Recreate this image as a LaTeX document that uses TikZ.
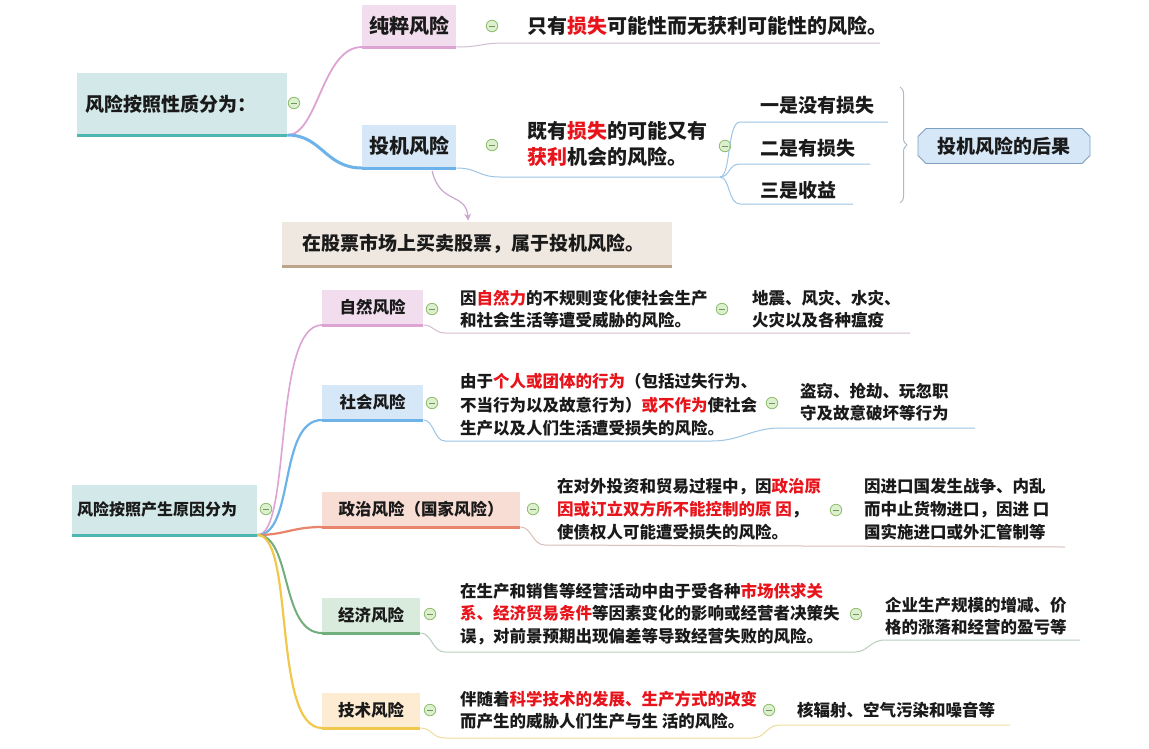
\documentclass[tikz,border=0pt]{standalone}
\usepackage{fontspec}
\setmainfont{Noto Sans CJK SC}
\usetikzlibrary{arrows.meta,decorations.pathreplacing,calc}

% palette
\definecolor{tealfill}{HTML}{D3E8E8}
\definecolor{tealline}{HTML}{4DB5B2}
\definecolor{pinkfill}{HTML}{F1DDEE}
\definecolor{pinkline}{HTML}{DDA3D3}
\definecolor{bluefill}{HTML}{D6E8F8}
\definecolor{blueline}{HTML}{6DB3EA}
\definecolor{redfill}{HTML}{F8DDD4}
\definecolor{redline}{HTML}{E8846C}
\definecolor{greenfill}{HTML}{D9EBDD}
\definecolor{greenline}{HTML}{72AE7C}
\definecolor{orangefill}{HTML}{FDEBD2}
\definecolor{yellowline}{HTML}{F2C84C}
\definecolor{beigefill}{HTML}{EFE8E0}
\definecolor{brownline}{HTML}{BCA48C}
\definecolor{hotred}{HTML}{E8141B}
\definecolor{txt}{HTML}{1A1A1A}
\definecolor{pinksub}{HTML}{D3BDD0}
\definecolor{bluesub}{HTML}{9CC5E6}
\definecolor{redsub}{HTML}{D8BFB7}
\definecolor{greensub}{HTML}{B8CFBD}
\definecolor{yellowsub}{HTML}{EEDC9C}
\definecolor{bracecol}{HTML}{A9BACB}
\definecolor{resultedge}{HTML}{7F9FBE}
\definecolor{minusfill}{HTML}{DCEFCF}
\definecolor{minusline}{HTML}{8DBD6C}
\definecolor{arrowcol}{HTML}{CBA6D0}

\newcommand{\redtxt}[1]{\textcolor{hotred}{#1}}

\tikzset{
  topic/.style={rectangle, fill=#1, inner sep=0pt, anchor=south west, text=txt},
  leaf/.style={anchor=west, align=left, inner sep=0pt, text=txt},
  fbig/.style={font=\fontsize{20pt}{26pt}\selectfont\bfseries},
  fmid/.style={font=\fontsize{19pt}{24pt}\selectfont\bfseries},
  fsmall/.style={font=\fontsize{16.5pt}{22.5pt}\selectfont\bfseries},
  froot/.style={font=\fontsize{16pt}{20pt}\selectfont\bfseries},
  minus/.style={circle, minimum size=11.5pt, inner sep=0pt, fill=minusfill, draw=minusline, line width=0.8pt,
    path picture={\draw[minusline!80!black, line width=0.9pt]
      ([xshift=-3pt]path picture bounding box.center) -- ([xshift=3pt]path picture bounding box.center);}},
  sub/.style={line width=1pt, draw=#1},
}

\begin{document}
\begin{tikzpicture}[x=1pt,y=-1pt]
\useasboundingbox[fill=white] (0,0) rectangle (1149,748);

% ---------- risk by nature ----------
\node[topic=tealfill, minimum height=62pt, text width=194pt, inner xsep=8pt, align=left, fmid] (root1) at (77,135) {风险按照性质分为：};
\node[topic=pinkfill, minimum width=94pt, minimum height=42pt, fbig] (pure) at (362,47) {纯粹风险};
\node[topic=bluefill, minimum width=94pt, minimum height=43pt, fbig] (spec) at (362,168) {投机风险};

\node[minus] (m0) at (294,103) {};
\node[minus] (m1) at (492,26) {};
\node[minus] (m2) at (492,145) {};
\node[minus] (m3) at (725,146) {};

\draw[pinkline, line width=1.8pt] (root1.south east) .. controls (318,135) and (322,47) .. (pure.south west);
\draw[blueline, line width=3pt] (root1.south east) .. controls (322,135) and (325,168) .. (spec.south west);

\node[leaf, fbig] (pureT) at (527,26) {只有\redtxt{损失}可能性而无获利可能性的风险。};
\coordinate (pureW) at (505,43);
\coordinate (pureE) at (880,43);
\draw[sub=pinksub] (pure.south east) .. controls (482,47) and (480,43) .. (pureW) -- (pureE);

\node[leaf, fbig] (specT) at (527,144) {既有\redtxt{损失}的可能又有\\\redtxt{获利}机会的风险。};
\coordinate (specW) at (500,177);
\coordinate (specJ) at (720,177);
\draw[sub=bluesub] (spec.south east) .. controls (478,168) and (478,177) .. (specW) -- (specJ);

\node[leaf, fmid] (o1) at (760,105) {一是没有损失};
\node[leaf, fmid] (o2) at (760,148) {二是有损失};
\node[leaf, fmid] (o3) at (760,190) {三是收益};
\coordinate (o1W) at (740,122); \coordinate (o1E) at (888,122);
\coordinate (o2W) at (740,164); \coordinate (o2E) at (870,164);
\coordinate (o3W) at (740,204); \coordinate (o3E) at (853,204);
\draw[sub=bluesub] (specJ) .. controls (731,177) and (727,122) .. (o1W) -- (o1E);
\draw[sub=bluesub] (specJ) .. controls (730,177) and (728,164) .. (o2W) -- (o2E);
\draw[sub=bluesub] (specJ) .. controls (730,177) and (728,204) .. (o3W) -- (o3E);

\draw[bracecol, line width=1pt, decorate, decoration={brace, amplitude=7pt}] (900,87) -- (900,203);
% summary box with cut corners
\filldraw[fill=bluefill, draw=resultedge, line width=0.9pt]
  (926,128.5) -- (1082,128.5) -- (1090,136.5) -- (1090,155.5) -- (1082,163.5)
  -- (926,163.5) -- (918,155.5) -- (918,136.5) -- cycle;
\node[inner sep=0pt, fmid, text=txt] (result) at (1004,146) {投机风险的后果};

\node[topic=beigefill, text width=350pt, inner xsep=20pt, minimum height=44pt, align=left, fmid] (stock) at (282,266) {在股票市场上买卖股票，属于投机风险。};
\draw[arrowcol, line width=1.2pt, -{Stealth[length=7pt,width=7pt]}]
  ($(spec.south)+(23,3)$) .. controls (440,205) and (466,192) .. ($(stock.north)+(-9,-1)$);

% ---------- risk by cause ----------
\node[topic=tealfill, text width=175pt, inner xsep=5pt, minimum height=50pt, align=left, froot] (root2) at (72,535) {风险按照产生原因分为};
\node[minus] (n0) at (266,509) {};

\node[topic=pinkfill, minimum width=101pt, minimum height=35pt, fsmall] (nat) at (322,325) {自然风险};
\node[topic=bluefill, minimum width=101pt, minimum height=35pt, fsmall] (soc) at (322,420) {社会风险};
\node[topic=redfill, minimum width=198pt, minimum height=35pt, fsmall] (pol) at (322,527) {政治风险（国家风险）};
\node[topic=greenfill, minimum width=98pt, minimum height=35pt, fsmall] (eco) at (322,633) {经济风险};
\node[topic=orangefill, minimum width=98pt, minimum height=35pt, fsmall] (tec) at (322,728) {技术风险};

\draw[pinkline, line width=1.6pt] (root2.south east) .. controls (292,535) and (272,325) .. (nat.south west);
\draw[blueline, line width=2.2pt] (root2.south east) .. controls (295,535) and (278,420) .. (soc.south west);
\draw[redline, line width=2.2pt] (root2.south east) .. controls (285,535) and (292,527) .. (pol.south west);
\draw[greenline, line width=2pt] (root2.south east) .. controls (292,535) and (280,633) .. (eco.south west);
\draw[yellowline, line width=2.2pt] (root2.south east) .. controls (295,535) and (272,728) .. (tec.south west);

\node[minus] (n1) at (432,309) {};
\node[minus] (n2) at (722,309) {};
\node[minus] (n3) at (432,403) {};
\node[minus] (n4) at (772,403) {};
\node[minus] (n5) at (533,509) {};
\node[minus] (n6) at (836,510) {};
\node[minus] (n7) at (430,614) {};
\node[minus] (n8) at (856,614) {};
\node[minus] (n9) at (430,710) {};
\node[minus] (n10) at (769,710) {};

% natural
\node[leaf, fsmall] (natT) at (460,309) {因\redtxt{自然力}的不规则变化使社会生产\\和社会生活等遭受威胁的风险。};
\node[leaf, fsmall] (natX) at (752,309) {地震、风灾、水灾、\\火灾以及各种瘟疫};
\coordinate (natW) at (445,333); \coordinate (natE) at (910,333);
\draw[sub=pinksub] (nat.south east) .. controls (434,325) and (434,333) .. (natW) -- (natE);

% social
\node[leaf, fsmall, font=\fontsize{16.5pt}{23.5pt}\selectfont\bfseries] (socT) at (460,405) {由于\redtxt{个人或团体的行为}（包括过失行为、\\不当行为以及故意行为）\redtxt{或不作为}使社会\\生产以及人们生活遭受损失的风险。};
\node[leaf, fsmall] (socX) at (800,402) {盗窃、抢劫、玩忽职\\守及故意破坏等行为};
\coordinate (socW) at (445,441); \coordinate (socJ) at (712,441);
\coordinate (socW2) at (780,428); \coordinate (socE) at (975,428);
\draw[sub=bluesub] (soc.south east) .. controls (434,420) and (434,441) .. (socW) -- (socJ)
  .. controls (740,441) and (752,428) .. (socW2) -- (socE);

% political
\node[leaf, fsmall, font=\fontsize{16.5pt}{23pt}\selectfont\bfseries] (polT) at (557,509) {在对外投资和贸易过程中，因\redtxt{政治原}\\\redtxt{因或订立双方所不能控制的原 因}，\\使债权人可能遭受损失的风险。};
\node[leaf, fsmall, font=\fontsize{16.5pt}{23pt}\selectfont\bfseries] (polX) at (864,509) {因进口国发生战争、内乱\\而中止货物进口，因进 口\\国实施进口或外汇管制等};
\coordinate (polW) at (545,545); \coordinate (polE) at (1065,547);
\draw[sub=redsub] (pol.south east) .. controls (532,527) and (532,545) .. (polW) -- (polE);

% economic
\node[leaf, fsmall] (ecoT) at (460,614) {在生产和销售等经营活动中由于受各种\redtxt{市场供求关}\\\redtxt{系、经济贸易条件}等因素变化的影响或经营者决策失\\误，对前景预期出现偏差等导致经营失败的风险。};
\node[leaf, fsmall] (ecoX) at (885,616) {企业生产规模的增减、价\\格的涨落和经营的盈亏等};
\coordinate (ecoW) at (445,652); \coordinate (ecoJ) at (855,652);
\coordinate (ecoW2) at (885,640); \coordinate (ecoE) at (1080,640);
\draw[sub=greensub] (eco.south east) .. controls (432,633) and (432,652) .. (ecoW) -- (ecoJ)
  .. controls (868,652) and (870,640) .. (ecoW2) -- (ecoE);

% technical
\node[leaf, fsmall] (tecT) at (460,710) {伴随着\redtxt{科学技术的发展、生产方式的改变}\\而产生的威胁人们生产与生 活的风险。};
\node[leaf, fsmall] (tecX) at (797,710) {核辐射、空气污染和噪音等};
\coordinate (tecW) at (445,738); \coordinate (tecJ) at (752,738);
\coordinate (tecW2) at (780,725); \coordinate (tecE) at (1010,725);
\draw[sub=yellowsub] (tec.south east) .. controls (432,728) and (432,738) .. (tecW) -- (tecJ)
  .. controls (766,738) and (766,725) .. (tecW2) -- (tecE);

% coloured base lines of the topic boxes
\foreach \n/\c in {root1/tealline, pure/pinkline, spec/blueline, stock/brownline, root2/tealline,
                   nat/pinkline, soc/blueline, pol/redline, eco/greenline, tec/yellowline}
  \draw[line width=3pt, \c] (\n.south west) -- (\n.south east);
\end{tikzpicture}
\end{document}
